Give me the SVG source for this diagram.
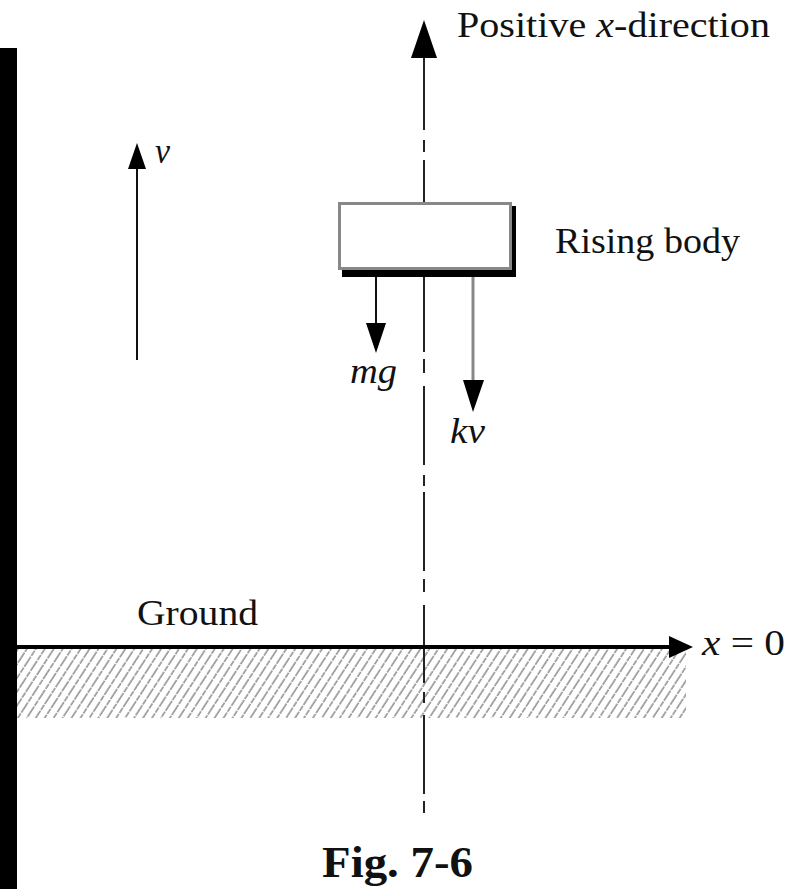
<svg xmlns="http://www.w3.org/2000/svg" width="787" height="889" viewBox="0 0 787 889">
<style>
text{font-family:"Times New Roman","Liberation Serif",Tinos,"Nimbus Roman",Times,serif;fill:#111}
.lbl{font-size:35px}
.it{font-style:italic}
.ax{stroke:#222;stroke-width:2;fill:none}
.ah{fill:#000;stroke:none}
</style>
<defs>
<pattern id="hatch" patternUnits="userSpaceOnUse" width="7.5" height="20" patternTransform="rotate(33)">
<line x1="1" y1="0" x2="1" y2="20" stroke="#555" stroke-width="1" stroke-dasharray="6 1"/>
</pattern>
</defs>
<rect width="787" height="889" fill="#fff"/>
<rect id="leftbar" x="0" y="48" width="17" height="841" fill="#000"/>

<g id="ground">
<rect x="17" y="649" width="669" height="69" fill="url(#hatch)"/>
<text class="lbl" x="137" y="625" textLength="121" lengthAdjust="spacingAndGlyphs">Ground</text>
</g>

<g id="connectors">
<path class="ax" d="M424,58V130M424,140V152M424,160V202M424,277V352M424,359V373M424,386V465M424,475V486M424,492V571M424,579V592M424,605V683M424,692V703M424,715V794M424,801V813"/>
<polygon class="ah" points="411,58 437,58 424,20"/>
<line x1="17" y1="647" x2="672" y2="647" stroke="#000" stroke-width="4"/>
<polygon class="ah" points="669,636 693,647 669,658"/>
<line x1="137" y1="168" x2="137" y2="360" stroke="#111" stroke-width="2"/>
<polygon class="ah" points="128,169 146,169 137,143"/>
<line x1="376" y1="277" x2="376" y2="324" stroke="#111" stroke-width="2"/>
<polygon class="ah" points="366,323 386,323 376,353"/>
<line x1="473" y1="277" x2="473" y2="381" stroke="#888" stroke-width="3"/>
<polygon class="ah" points="463,380 484,380 473,412"/>
</g>

<g id="body">
<rect x="342" y="206" width="174" height="71" fill="#000"/>
<rect x="339.5" y="203.5" width="171" height="65" fill="#fff" stroke="#888" stroke-width="3"/>
<text class="lbl" x="555" y="253" textLength="185" lengthAdjust="spacingAndGlyphs">Rising body</text>
</g>

<g id="labels">
<text class="lbl" x="457" y="37" textLength="313" lengthAdjust="spacingAndGlyphs">Positive <tspan class="it">x</tspan>-direction</text>
<text class="lbl it" x="155" y="163" textLength="15" lengthAdjust="spacingAndGlyphs">v</text>
<text class="lbl it" x="350" y="383" textLength="47" lengthAdjust="spacingAndGlyphs">mg</text>
<text class="lbl it" x="450" y="443" textLength="35" lengthAdjust="spacingAndGlyphs">kv</text>
<text class="lbl" x="702" y="655" textLength="83" lengthAdjust="spacingAndGlyphs"><tspan class="it">x</tspan> = 0</text>
<text x="322" y="877" font-size="45" font-weight="bold" textLength="151" lengthAdjust="spacingAndGlyphs">Fig. 7-6</text>
</g>
</svg>
